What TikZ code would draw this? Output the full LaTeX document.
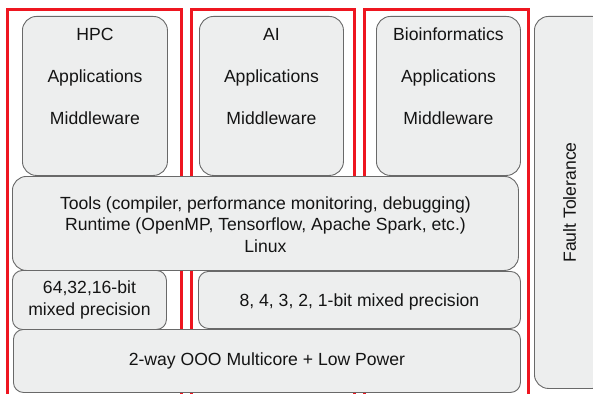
\documentclass[tikz,border=0pt]{standalone}
\usepackage{fontspec}
\setmainfont{Liberation Sans}
\definecolor{redline}{RGB}{238,22,32}
\definecolor{boxfill}{RGB}{237,238,238}
\definecolor{boxdraw}{RGB}{105,105,105}
\definecolor{txt}{RGB}{20,20,20}
\begin{document}
\begin{tikzpicture}[x=1pt,y=-1pt,
  frame/.style={draw=redline, line width=2.7pt, inner sep=0pt, anchor=north west},
  box/.style={draw=boxdraw, fill=boxfill, line width=0.9pt, rounded corners=14pt, inner sep=0pt, anchor=north west},
  sbox/.style={box, rounded corners=10pt},
  lbl/.style={text=txt, font=\fontsize{17.6}{21.5}\selectfont, inner sep=0pt, text height=12.6pt, text depth=0pt},
  mlbl/.style={text=txt, font=\fontsize{17.6}{21.5}\selectfont, inner sep=0pt, align=center}]
\useasboundingbox (0,0) rectangle (593,393);
\clip (0,0) rectangle (593,393);
\fill[white] (0,0) rectangle (593,393);
% red frames
\node[frame, minimum width=174pt, minimum height=420pt] (f1) at (6,8) {};
\node[frame, minimum width=163pt, minimum height=420pt] (f2) at (190,8) {};
\node[frame, minimum width=164pt, minimum height=420pt] (f3) at (363,8) {};
% top application boxes
\node[box, minimum width=145pt, minimum height=159pt] (hpc) at (22,16) {};
\node[box, minimum width=144pt, minimum height=159pt] (ai) at (199,16) {};
\node[box, minimum width=144pt, minimum height=159pt] (bio) at (376,16) {};
\node[box, minimum width=72pt, minimum height=372pt] (ft) at (534,16) {};
% lower layers
\node[box, minimum width=506pt, minimum height=94pt] (tools) at (12,176) {};
\node[sbox, minimum width=154pt, minimum height=59pt] (b64) at (12,270) {};
\node[sbox, minimum width=322pt, minimum height=57pt] (b8) at (198,271) {};
\node[sbox, minimum width=507pt, minimum height=63pt] (b2) at (13,329) {};
% labels
\node[lbl] (hpc1) at ([yshift=-18pt]hpc.north) {HPC};
\node[lbl] (hpc2) at ([yshift=-60.5pt]hpc.north) {Applications};
\node[lbl] (hpc3) at ([yshift=-102pt]hpc.north) {Middleware};
\node[lbl] (ai1) at ([yshift=-18pt]ai.north) {AI};
\node[lbl] (ai2) at ([yshift=-60.5pt]ai.north) {Applications};
\node[lbl] (ai3) at ([yshift=-102pt]ai.north) {Middleware};
\node[lbl] (bio1) at ([yshift=-18pt]bio.north) {Bioinformatics};
\node[lbl] (bio2) at ([yshift=-60.5pt]bio.north) {Applications};
\node[lbl] (bio3) at ([yshift=-102pt]bio.north) {Middleware};
\node[lbl, rotate=90] (ftl) at ([xshift=-1pt]ft.center) {Fault Tolerance};
\node[mlbl] (toolsl) at ([yshift=-1pt]tools.center) {Tools (compiler, performance monitoring, debugging)\\Runtime (OpenMP, Tensorflow, Apache Spark, etc.)\\Linux};
\node[mlbl] (b64l) at (b64.center) {64,32,16-bit\\mixed precision};
\node[mlbl] (b8l) at ([yshift=-1.5pt]b8.center) {8, 4, 3, 2, 1-bit mixed precision};
\node[mlbl] (b2l) at (b2.center) {2-way OOO Multicore + Low Power};
\end{tikzpicture}
\end{document}
